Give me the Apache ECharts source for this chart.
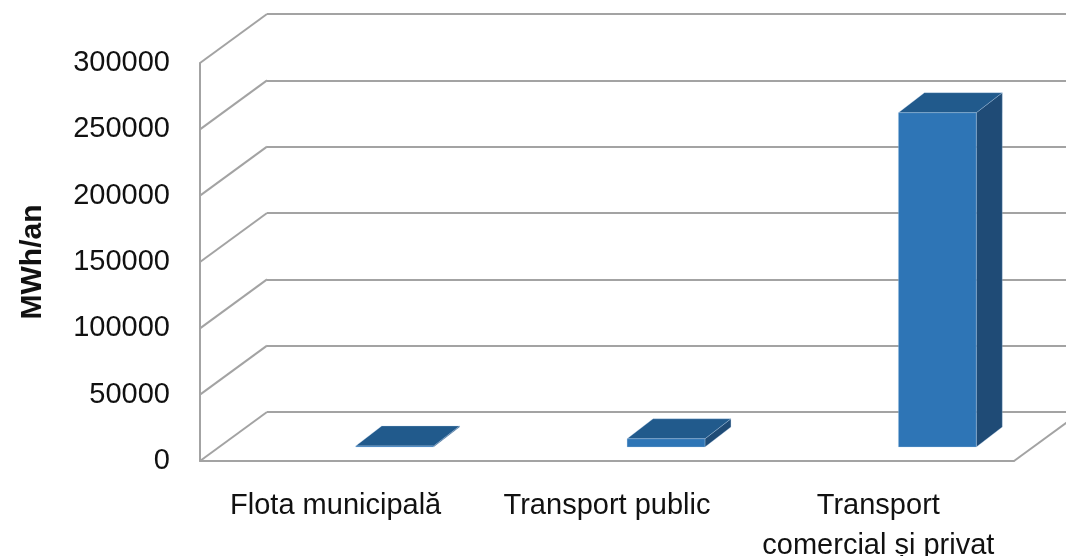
<!DOCTYPE html>
<html>
<head>
<meta charset="utf-8">
<script src="https://cdn.jsdelivr.net/npm/echarts@6/dist/echarts.min.js"></script>
<style>
  html, body { margin: 0; padding: 0; background: #fff; }
  #chart { width: 1066px; height: 556px; }
</style>
</head>
<body>
<div id="chart"></div>
<script>
// date
var categories = ['Flota municipală', 'Transport public', 'Transport\ncomercial și privat'];
var values = [800, 6200, 252000];
var yTicks = [0, 50000, 100000, 150000, 200000, 250000, 300000];

// adancimea peretelui din spate (px)
var wallDX = 67, wallDY = -49;
var gridColor = '#a3a3a3';

var chart = echarts.init(document.getElementById('chart'));

// liniile oblice de pe peretele lateral + muchia dreapta a podelei
function renderWall(params, api) {
    var v = api.value(1);
    var y = api.coord([0, v])[1];
    var cs = params.coordSys;
    var children = [{
        type: 'line',
        shape: { x1: cs.x, y1: y, x2: cs.x + wallDX, y2: y + wallDY },
        style: { stroke: gridColor, lineWidth: 2 }
    }];
    if (v === 0) {
        children.push({
            type: 'line',
            shape: { x1: cs.x + cs.width, y1: y, x2: cs.x + cs.width + wallDX, y2: y + wallDY },
            style: { stroke: gridColor, lineWidth: 2 }
        });
    }
    return { type: 'group', children: children };
}

// coloane 3D: fata, capac, lateral
function renderBar(params, api) {
    var i = api.value(0);
    var top = api.coord([i, api.value(1)]);
    var base = api.coord([i, 0]);
    var bw = api.size([1, 0])[0];
    var x1 = top[0] + bw * 0.074, x2 = top[0] + bw * 0.361;
    var yt = top[1] - 14, yb = base[1] - 14;
    var dx = 26, dy = -20;
    var edge = 'rgba(190,215,240,0.6)';
    return {
        type: 'group',
        children: [
            {
                type: 'polygon',
                shape: { points: [[x2, yt], [x2 + dx, yt + dy], [x2 + dx, yb + dy], [x2, yb]] },
                style: { fill: '#1f4b76', stroke: edge, lineWidth: 0.5 }
            },
            {
                type: 'polygon',
                shape: { points: [[x1, yt], [x1 + dx, yt + dy], [x2 + dx, yt + dy], [x2, yt]] },
                style: { fill: '#215a8c', stroke: edge, lineWidth: 0.5 }
            },
            {
                type: 'polygon',
                shape: { points: [[x1, yt], [x2, yt], [x2, yb], [x1, yb]] },
                style: { fill: '#2e75b6', stroke: edge, lineWidth: 0.5 }
            }
        ]
    };
}

var option = {
    backgroundColor: '#fff',
    animation: false,
    textStyle: { fontFamily: 'Liberation Sans' },
    grid: [
        { left: 200, right: 52, top: 63, bottom: 95, containLabel: false, outerBoundsMode: 'none' },
        { left: 267, right: -15, top: 14, bottom: 144, containLabel: false, outerBoundsMode: 'none' }
    ],
    xAxis: [
        {
            type: 'category',
            gridIndex: 0,
            data: categories,
            axisLine: { show: true, lineStyle: { color: gridColor, width: 2 } },
            axisTick: { show: false },
            axisLabel: { fontSize: 29, lineHeight: 40, color: '#111', margin: 25, interval: 0 }
        },
        {
            type: 'value',
            gridIndex: 1,
            show: false
        }
    ],
    yAxis: [
        {
            type: 'value',
            gridIndex: 0,
            min: 0,
            max: 300000,
            interval: 50000,
            name: 'MWh/an',
            nameLocation: 'middle',
            nameRotate: 90,
            nameGap: 152,
            nameTextStyle: { fontSize: 30, fontWeight: 'bold', color: '#111' },
            axisLine: { show: true, lineStyle: { color: gridColor, width: 2 } },
            axisTick: { show: false },
            splitLine: { show: false },
            axisLabel: {
                fontSize: 29, color: '#111', margin: 30, padding: [8, 0, 0, 0],
                formatter: function (v) { return String(v); }
            }
        },
        {
            type: 'value',
            gridIndex: 1,
            min: 0,
            max: 300000,
            interval: 50000,
            axisLine: { show: false },
            axisTick: { show: false },
            axisLabel: { show: false },
            splitLine: { show: true, lineStyle: { color: gridColor, width: 2 } }
        }
    ],
    series: [
        {
            type: 'custom',
            xAxisIndex: 0,
            yAxisIndex: 0,
            renderItem: renderWall,
            data: yTicks.map(function (v) { return [0, v]; })
        },
        {
            type: 'custom',
            xAxisIndex: 0,
            yAxisIndex: 0,
            renderItem: renderBar,
            data: values.map(function (v, i) { return [i, v]; })
        }
    ]
};

chart.setOption(option);
</script>
</body>
</html>
